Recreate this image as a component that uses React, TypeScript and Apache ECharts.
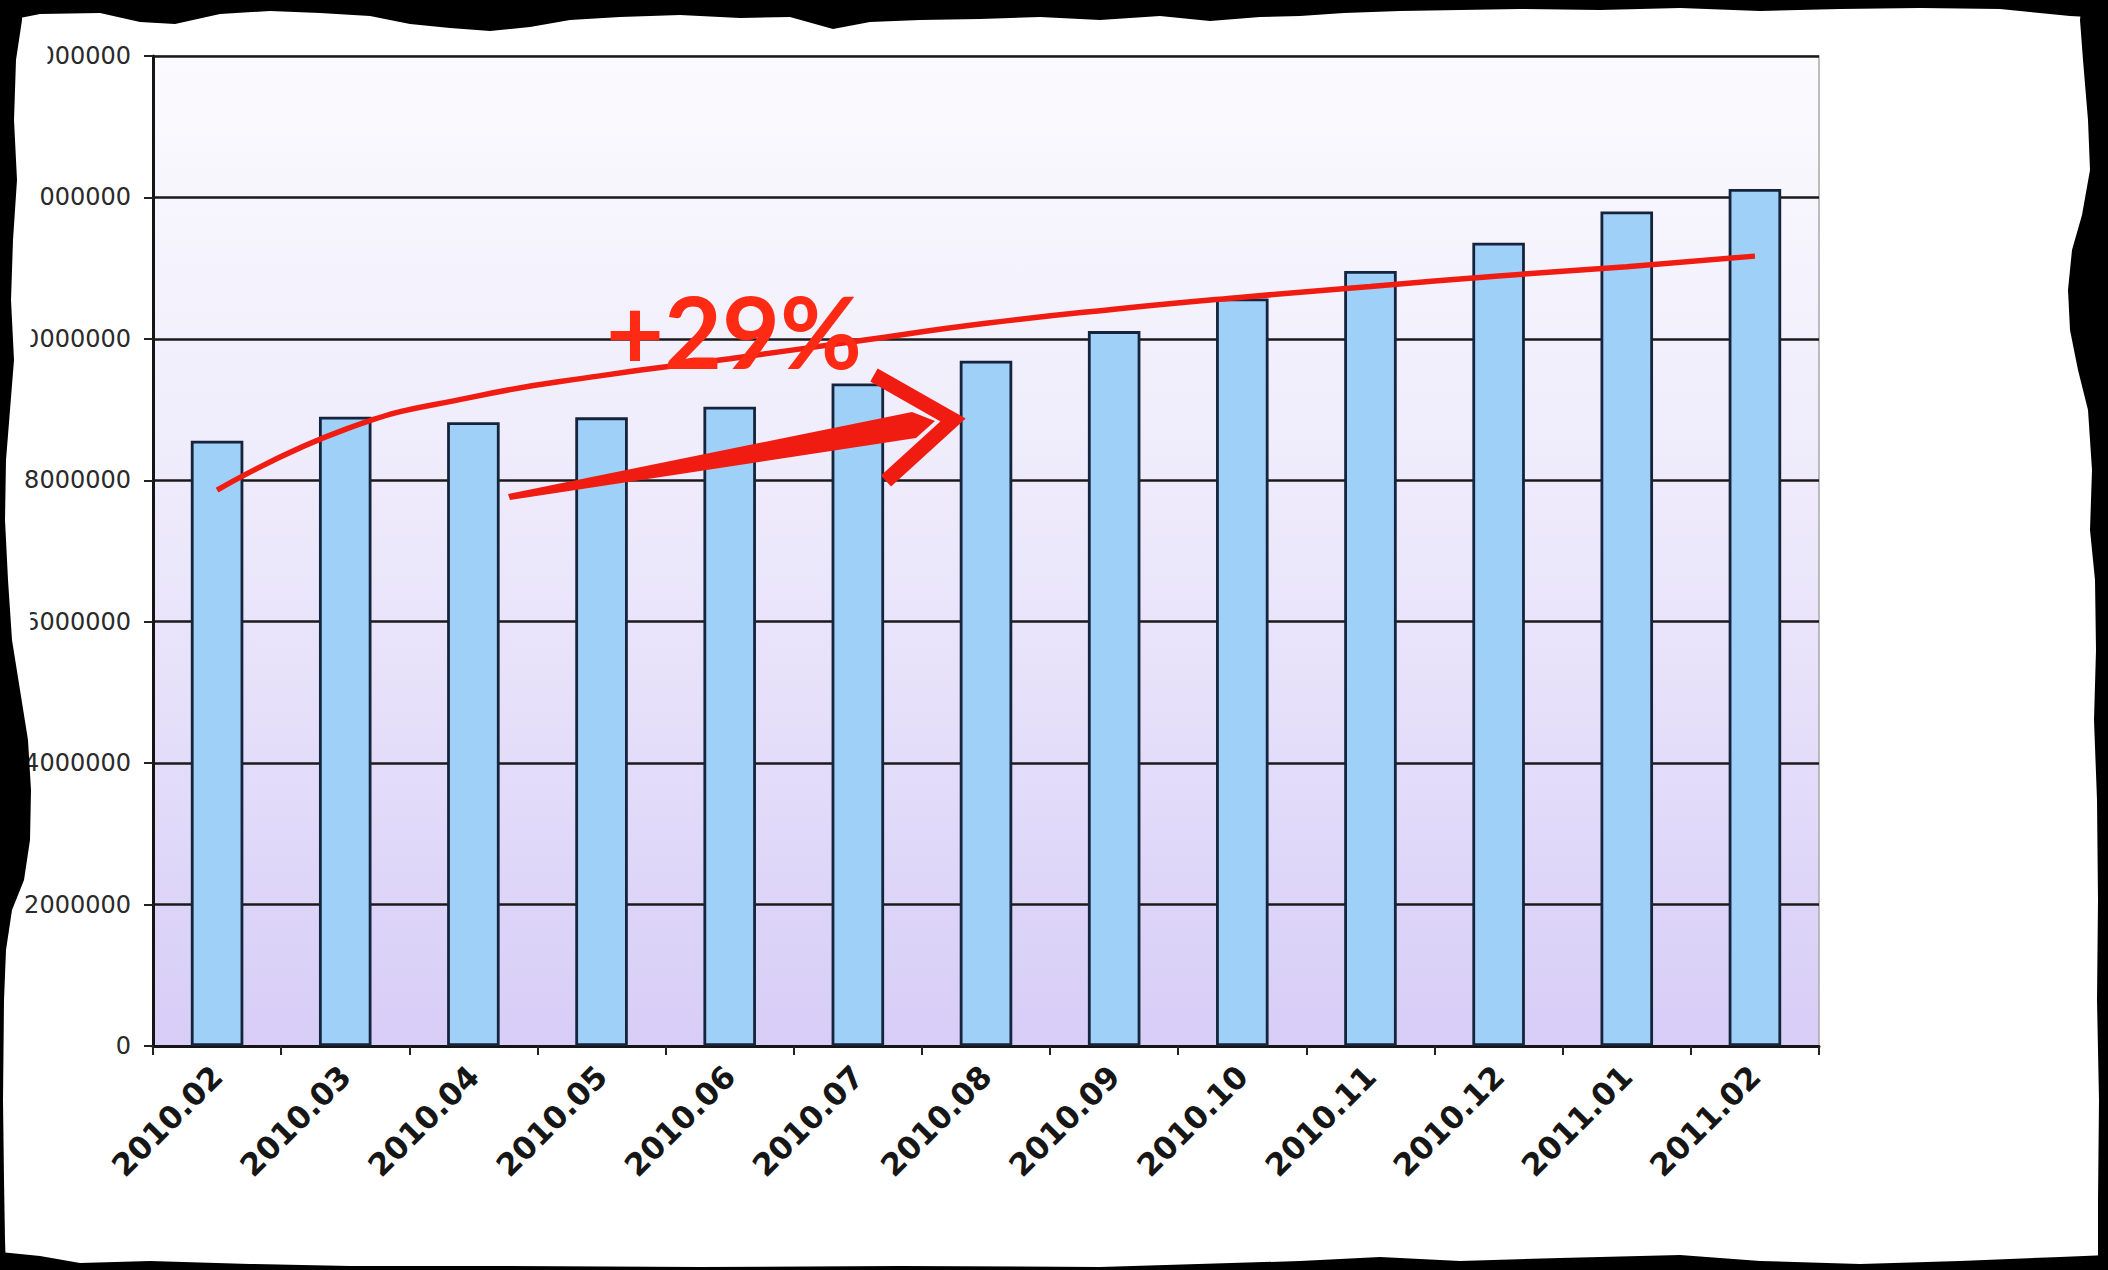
import React, { useEffect, useRef } from "react";
import * as echarts from "echarts";

const categories = [
  "2010.02", "2010.03", "2010.04", "2010.05", "2010.06", "2010.07", "2010.08",
  "2010.09", "2010.10", "2010.11", "2010.12", "2011.01", "2011.02",
];
const barValues = [
  8560000, 8900000, 8820000, 8890000, 9040000, 9370000, 9690000,
  10110000, 10570000, 10960000, 11360000, 11800000, 12120000,
];
const trendValues = [
  7860000, 8720000, 9180000, 9480000, 9720000, 9970000, 10220000,
  10420000, 10590000, 10740000, 10890000, 11020000, 11170000,
];
const yMin = 0;
const yMax = 14000000;
const yInterval = 2000000;
const annotationText = "+29%";

const RED = "#f01c12";

const topEdge = [
  [0, 22], [40, 14], [100, 13], [140, 22], [175, 24], [220, 14], [270, 11], [320, 13],
  [370, 16], [410, 24], [450, 28], [490, 31], [530, 27], [570, 20], [620, 17], [680, 15],
  [740, 18], [790, 17], [833, 29], [870, 22], [920, 20], [980, 19], [1040, 17], [1100, 20],
  [1160, 16], [1210, 21], [1260, 17], [1300, 16], [1344, 13], [1400, 11], [1460, 10],
  [1520, 9], [1600, 10], [1680, 8], [1760, 11], [1840, 9], [1920, 8], [2000, 9],
  [2030, 12], [2070, 16], [2108, 18],
];
const leftEdge = [
  [22, 0], [22, 20], [16, 60], [14, 120], [17, 180], [13, 240], [11, 300], [14, 360],
  [10, 410], [6, 460], [5, 520], [8, 580], [12, 640], [20, 690], [28, 740], [31, 790],
  [30, 840], [24, 880], [12, 910], [6, 950], [4, 1000], [3, 1100], [4, 1180], [5, 1240], [6, 1270],
];
const rightEdge = [
  [2082, 0], [2080, 20], [2083, 60], [2088, 120], [2090, 170], [2082, 215], [2072, 250],
  [2068, 290], [2070, 330], [2078, 370], [2088, 410], [2092, 470], [2090, 530], [2095, 580],
  [2096, 650], [2094, 720], [2097, 800], [2098, 900], [2097, 1000], [2099, 1100],
  [2098, 1200], [2098, 1270],
];
const bottomEdge = [
  [0, 1252], [40, 1256], [80, 1263], [150, 1261], [250, 1264], [350, 1266], [500, 1266],
  [700, 1267], [900, 1266], [1100, 1267], [1300, 1261], [1380, 1257], [1460, 1261],
  [1560, 1258], [1680, 1255], [1760, 1261], [1860, 1264], [1960, 1261], [2060, 1257], [2108, 1255],
];
const labelCrop = [
  [0, 0], [48, 0], [47, 120], [40, 196], [36, 260], [31, 339], [26, 400], [18, 440],
  [18, 520], [24, 570], [31, 622], [26, 680], [12, 730], [0, 740],
];

export default function App() {
  const ref = useRef<HTMLDivElement>(null);
  useEffect(() => {
    if (!ref.current) return;
    const chart = echarts.init(ref.current, null, { renderer: "svg" });
    const W = 2108;
    const H = 1270;
    const border = (pts: number[][]) => ({
      type: "polygon",
      z: 100,
      silent: true,
      shape: { points: pts },
      style: { fill: "#000" },
    });
    chart.setOption({
      animation: false,
      backgroundColor: "#ffffff",
      grid: {
        left: 153,
        right: 289,
        top: 56,
        bottom: 224,
        show: true,
        backgroundColor: new echarts.graphic.LinearGradient(0, 0, 0, 1, [
          { offset: 0, color: "#fbfbfe" },
          { offset: 0.5, color: "#ece8fb" },
          { offset: 1, color: "#d7cdf7" },
        ]),
        borderColor: "#a8a8a8",
        borderWidth: 1.5,
      },
      xAxis: {
        type: "category",
        data: categories,
        boundaryGap: true,
        axisLine: { show: true, lineStyle: { color: "#151515", width: 3 } },
        axisTick: { show: true, interval: 0, length: 9, lineStyle: { color: "#222", width: 2 } },
        axisLabel: {
          interval: 0,
          rotate: 45,
          margin: 25,
          color: "#161616",
          fontFamily: "DejaVu Sans",
          fontWeight: "bold",
          fontSize: 31,
        },
        splitLine: { show: false },
      },
      yAxis: {
        type: "value",
        min: yMin,
        max: yMax,
        interval: yInterval,
        axisLine: { show: true, lineStyle: { color: "#151515", width: 3 } },
        axisTick: { show: true, length: 9, lineStyle: { color: "#222", width: 2 } },
        axisLabel: {
          margin: 22,
          color: "#2a2a2a",
          fontFamily: "DejaVu Sans",
          fontSize: 24,
          formatter: (v: number) => String(v),
        },
        splitLine: { show: true, lineStyle: { color: "#1a1a1a", width: 2.5 } },
      },
      series: [
        {
          type: "bar",
          data: barValues,
          barWidth: "41%",
          itemStyle: { color: "#9ed0f8", borderColor: "#16233c", borderWidth: 2.8 },
          z: 2,
        },
        {
          type: "line",
          data: trendValues,
          smooth: 0.5,
          symbol: "none",
          lineStyle: { color: RED, width: 5.5 },
          z: 5,
        },
      ],
      graphic: [
        {
          type: "polygon",
          z: 50,
          silent: true,
          shape: { points: [[508, 494], [912, 412], [935, 421], [916, 438], [510, 500]] },
          style: { fill: RED },
        },
        {
          type: "polyline",
          z: 51,
          silent: true,
          shape: { points: [[874, 375], [953, 420], [886, 481]] },
          style: { stroke: RED, lineWidth: 15, fill: null, lineJoin: "miter" },
        },
        {
          type: "text",
          z: 52,
          silent: true,
          style: {
            text: annotationText,
            x: 606,
            y: 330,
            fill: "#ff2a14",
            fontFamily: "Lato",
            fontSize: 100,
            fontWeight: "bold",
            verticalAlign: "middle",
            align: "left",
          },
        },
        {
          type: "polygon",
          z: 99,
          silent: true,
          shape: { points: labelCrop },
          style: { fill: "#ffffff" },
        },
        border([[0, 0], [W, 0], ...topEdge.slice().reverse()]),
        border([[0, 0], ...leftEdge, [0, H]]),
        border([[W, 0], ...rightEdge, [W, H]]),
        border([[0, H], ...bottomEdge, [W, H]]),
      ],
    });
    return () => chart.dispose();
  }, []);
  return (
    <div
      ref={ref}
      style={{ position: "fixed", left: 0, top: 0, width: 2108, height: 1270 }}
    />
  );
}
